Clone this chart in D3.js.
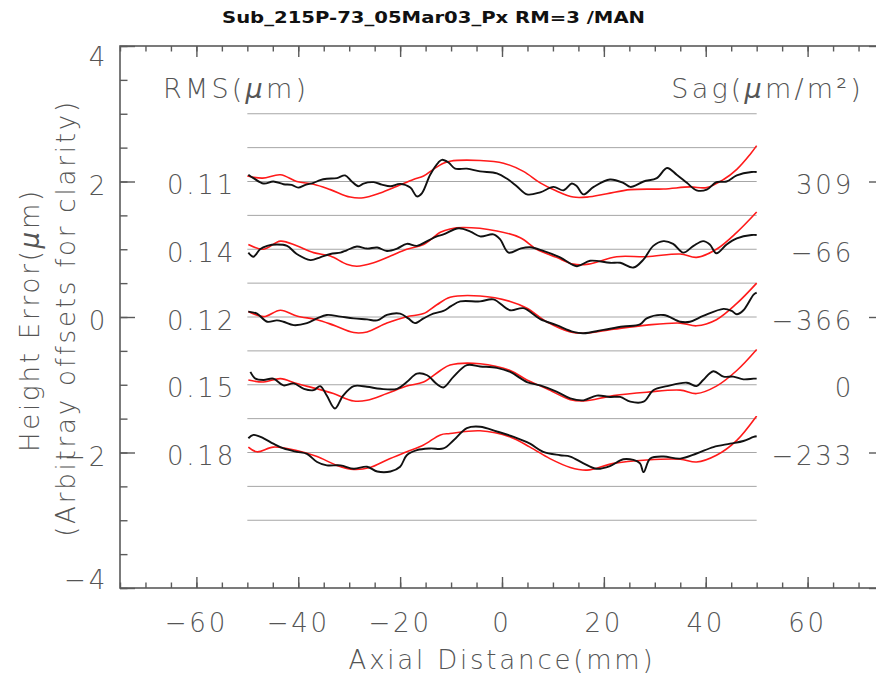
<!DOCTYPE html>
<html>
<head>
<meta charset="utf-8">
<script src="https://cdn.jsdelivr.net/npm/d3@7/dist/d3.min.js"></script>
<style>
  html, body { margin: 0; padding: 0; background: #fff; }
  svg { display: block; }
  .lbl { font-family: "DejaVu Sans", sans-serif; font-weight: 200; fill: #555; font-size: 26px; letter-spacing: 2.8px; }
  .head { font-size: 27px; letter-spacing: 3.2px; }
</style>
</head>
<body>
<script>
// Axial height-error profiles: measured (black) and sag fit (red), stacked with offsets.
const title = "Sub_215P-73_05Mar03_Px RM=3 /MAN";
const xTicks = [-60, -40, -20, 0, 20, 40, 60];
const xTickLabels = ["\u221260", "\u221240", "\u221220", "0", "20", "40", "60"];
const yTicks = [4, 2, 0, -2, -4];
const yTickLabels = ["4", "2", "0", "\u22122", "\u22124"];
const guideLevels = [3, 2.5, 2, 1.5, 1, 0.5, 0, -0.5, -1, -1.5, -2, -2.5, -3];
const offsets = [2, 1, 0, -1, -2];
const rmsLabels = ["0.11", "0.14", "0.12", "0.15", "0.18"];
const sagLabels = ["309", "\u221266", "\u2212366", "0", "\u2212233"];

const measured1 = [[-49.8,0.10],[-48.8,0.05],[-46.8,-0.03],[-44.9,0.0],[-42.9,-0.04],[-41.3,-0.05],[-40,-0.09],[-38.6,-0.05],[-37,-0.02],[-35.7,0.02],[-34.4,0.04],[-32.4,0.05],[-30.8,0.09],[-29.5,0.0],[-28.2,-0.07],[-27.2,-0.03],[-25.2,-0.01],[-23.6,-0.045],[-21.9,-0.07],[-20,-0.035],[-18,-0.09],[-16.7,-0.22],[-15.7,-0.17],[-14.1,0.10],[-12.5,0.28],[-11.8,0.32],[-10.5,0.28],[-9.2,0.19],[-6.9,0.19],[-4.3,0.15],[-1.0,0.12],[1.0,0.04],[2.9,-0.07],[4.9,-0.19],[7.5,-0.16],[10.1,-0.08],[12.1,-0.13],[13.7,-0.03],[14.7,-0.07],[16,-0.19],[18,-0.08],[21.2,0.03],[23.8,-0.02],[25.2,-0.08],[27.8,0.0],[30.4,0.05],[32.4,0.20],[34.3,0.10],[36.3,-0.02],[38.2,-0.13],[40.2,-0.12],[42.1,-0.01],[44.1,0.0],[46.1,0.09],[49,0.14],[50,0.14]];
const fit1 = [[-50,0.08],[-47,0.05],[-43.5,0.10],[-40.3,0.0],[-37,-0.04],[-33.7,-0.12],[-29.8,-0.23],[-27.2,-0.24],[-23.9,-0.17],[-20.6,-0.07],[-17.4,0.03],[-15.4,0.08],[-13.5,0.18],[-11.5,0.27],[-10.2,0.30],[-4.3,0.31],[0.3,0.27],[4.2,0.15],[7.5,-0.02],[10.7,-0.14],[14,-0.23],[16.7,-0.23],[20.6,-0.18],[25.2,-0.12],[31.7,-0.11],[36.9,-0.08],[40.2,-0.09],[43.5,0.03],[46.1,0.18],[48.7,0.40],[50,0.53]];

const measured2 = [[-49.8,-0.05],[-48.8,-0.11],[-47.5,0.0],[-46.1,0.05],[-44.2,0.07],[-42.2,0.05],[-40.3,-0.07],[-37.6,-0.16],[-35.7,-0.12],[-33.7,-0.07],[-31.7,-0.05],[-30.5,-0.015],[-28.5,0.04],[-26.5,0.01],[-24.5,0.025],[-22.6,-0.025],[-20.6,0.01],[-18.7,0.08],[-16.7,0.05],[-14.7,0.12],[-12.8,0.19],[-11.5,0.22],[-8.5,0.31],[-6.2,0.26],[-4.3,0.19],[-1.7,0.22],[-0.4,0.15],[1.3,-0.05],[3.6,0.01],[5.5,0.03],[8.1,-0.025],[11.4,-0.12],[14.7,-0.25],[17.3,-0.17],[21.2,-0.20],[23.2,-0.20],[25.8,-0.27],[27.8,-0.15],[29.7,0.05],[31.7,0.12],[33.6,0.08],[35.6,-0.05],[37.6,0.05],[39.5,0.12],[40.8,0.07],[42.1,-0.06],[44.1,0.07],[46.1,0.16],[49,0.21],[50,0.21]];
const fit2 = [[-49.8,0.07],[-46.8,0.0],[-43.5,0.12],[-40.3,0.05],[-37,-0.05],[-33.7,-0.10],[-30.5,-0.22],[-28.5,-0.25],[-25.2,-0.20],[-21.9,-0.10],[-18.7,0.0],[-15.4,0.07],[-12.1,0.25],[-10.2,0.30],[-7.6,0.32],[-1.0,0.27],[3.6,0.17],[6.8,0.0],[10.7,-0.12],[14,-0.22],[17,-0.22],[22.5,-0.11],[28.4,-0.11],[35,-0.07],[38.2,-0.12],[42.1,0.0],[46.1,0.25],[50,0.55]];

const measured3 = [[-49.8,0.08],[-48.1,0.05],[-46.1,-0.07],[-44.2,-0.05],[-42.9,-0.07],[-40.9,-0.12],[-38.3,-0.09],[-36.3,-0.02],[-34.4,0.03],[-31.7,0.005],[-29.1,-0.02],[-26.5,-0.035],[-24.5,-0.05],[-22.6,0.03],[-20,0.05],[-18.4,-0.02],[-17.1,-0.09],[-15.4,-0.02],[-13.5,0.05],[-11.5,0.09],[-10,0.16],[-8.2,0.23],[-4.3,0.23],[-1.7,0.26],[1.6,0.10],[4.2,0.13],[7.5,-0.03],[10.7,-0.12],[14,-0.22],[16,-0.24],[19.9,-0.19],[23.8,-0.14],[27.1,-0.11],[28.4,-0.02],[31.7,0.03],[35,-0.07],[36.9,-0.07],[39.5,0.015],[43.5,0.12],[45.1,0.09],[46.1,0.04],[47.4,0.10],[49.4,0.33],[50,0.36]];
const fit3 = [[-49.8,0.08],[-46.8,0.005],[-43.5,0.10],[-40.3,0.015],[-36.3,-0.04],[-33.1,-0.12],[-29.1,-0.23],[-26.5,-0.22],[-22.6,-0.09],[-18.7,0.005],[-15.4,0.05],[-12.8,0.18],[-10.2,0.29],[-4.3,0.31],[1.6,0.23],[4.9,0.13],[8.8,-0.07],[13.4,-0.22],[16,-0.24],[21.9,-0.18],[28.4,-0.12],[35,-0.09],[38.2,-0.13],[42.1,-0.04],[46.1,0.20],[50,0.50]];

const measured4 = [[-49.4,0.19],[-48.4,0.09],[-46.8,0.07],[-44.9,0.09],[-42.9,-0.01],[-40.9,0.02],[-38.9,-0.06],[-37,-0.08],[-35.7,-0.02],[-34.4,-0.16],[-32.8,-0.35],[-31.2,-0.16],[-29.1,-0.02],[-26.5,-0.03],[-23.9,-0.06],[-20.6,-0.06],[-18.7,0.04],[-16.7,0.165],[-14.7,0.14],[-12.8,0.01],[-11.5,-0.04],[-9.5,0.12],[-6.9,0.29],[-4.3,0.27],[-1.0,0.25],[1.6,0.19],[4.9,0.04],[7.5,-0.01],[10.7,-0.10],[13.4,-0.20],[16,-0.23],[18.6,-0.16],[21.2,-0.18],[23.2,-0.18],[25.2,-0.25],[27.8,-0.25],[29.7,-0.08],[32.4,-0.02],[36.3,0.03],[38.2,-0.02],[39.5,0.07],[41.5,0.20],[43.5,0.12],[45.4,0.12],[47.4,0.08],[49.4,0.09],[50,0.09]];
const fit4 = [[-49.8,0.07],[-46.8,0.04],[-43.5,0.09],[-40.3,0.017],[-36.3,-0.06],[-33.1,-0.13],[-29.1,-0.24],[-26.5,-0.23],[-22.6,-0.13],[-18.7,-0.02],[-15.4,0.04],[-12.1,0.21],[-10.2,0.29],[-4.3,0.31],[1.6,0.21],[4.9,0.07],[8.8,-0.06],[13.4,-0.22],[16,-0.24],[21.9,-0.16],[28.4,-0.11],[35,-0.08],[38.2,-0.13],[42.1,-0.02],[46.1,0.21],[50,0.52]];

const measured5 = [[-49.8,0.21],[-48.8,0.26],[-46.8,0.21],[-44.9,0.13],[-42.9,0.06],[-40.3,0.01],[-38.3,-0.02],[-36.3,-0.14],[-34.4,-0.19],[-31.7,-0.19],[-29.1,-0.24],[-26.5,-0.21],[-24.5,-0.28],[-21.9,-0.28],[-20,-0.21],[-18.7,-0.04],[-16.7,0.035],[-14.1,0.06],[-11.5,0.06],[-9.5,0.18],[-6.9,0.36],[-4.3,0.38],[-1.0,0.31],[2.3,0.23],[5.5,0.13],[8.1,0.01],[11.4,-0.04],[13.4,-0.06],[16,-0.16],[18.6,-0.24],[21.2,-0.20],[23.8,-0.10],[25.8,-0.11],[27.1,-0.16],[27.8,-0.29],[29.1,-0.09],[31.7,-0.06],[35,-0.09],[38.2,-0.015],[41.5,0.08],[44.8,0.13],[47.4,0.17],[49.4,0.23],[50,0.24]];
const fit5 = [[-49.8,0.08],[-48.1,0.01],[-44.9,0.08],[-40.3,0.03],[-36.3,-0.06],[-32.4,-0.19],[-29.1,-0.25],[-25.9,-0.22],[-22.6,-0.11],[-18.7,0.01],[-15.4,0.11],[-12.1,0.26],[-10.2,0.28],[-4.3,0.32],[1.6,0.23],[5.5,0.08],[9.4,-0.09],[13.4,-0.22],[16.7,-0.26],[21.9,-0.16],[28.4,-0.11],[35,-0.10],[38.2,-0.14],[42.1,-0.04],[46.1,0.18],[50,0.54]];

const measuredSets = [measured1, measured2, measured3, measured4, measured5];
const fitSets = [fit1, fit2, fit3, fit4, fit5];

const W = 876, H = 684;
const x = d3.scaleLinear().domain([-75, 75]).range([120, 884]);
const y = d3.scaleLinear().domain([-4, 4]).range([588, 46]);
const axisColor = "#5a5a5a";

const svg = d3.select("body").append("svg").attr("width", W).attr("height", H);

// guide lines behind the profiles
svg.append("g").selectAll("line").data(guideLevels).join("line")
  .attr("x1", x(-50)).attr("x2", x(50))
  .attr("y1", d => y(d)).attr("y2", d => y(d))
  .attr("stroke", "#a6a6a6").attr("stroke-width", 1);

// profiles
const line = d3.line().curve(d3.curveCatmullRom.alpha(0.5));
offsets.forEach((off, i) => {
  svg.append("path")
    .attr("d", line(fitSets[i].map(p => [x(p[0]), y(off + p[1])])))
    .attr("fill", "none").attr("stroke", "#ff1a1a").attr("stroke-width", 1.6);
  svg.append("path")
    .attr("d", line(measuredSets[i].map(p => [x(p[0]), y(off + p[1])])))
    .attr("fill", "none").attr("stroke", "#111").attr("stroke-width", 1.9);
});

// frame and ticks
function styleAxis(g) {
  g.select(".domain").remove();
  g.selectAll(".tick line").attr("stroke", axisColor).attr("stroke-width", 1.4);
}
const xMinor = d3.range(-75, 76, 5);
const yMinor = d3.range(-4, 4.01, 0.5);
svg.append("g").attr("transform", "translate(0,588)")
  .call(d3.axisBottom(x).tickValues(xMinor).tickSize(-5.5).tickFormat("")).call(styleAxis);
svg.append("g").attr("transform", "translate(0,588)")
  .call(d3.axisBottom(x).tickValues(xTicks).tickSize(-11).tickFormat("")).call(styleAxis);
svg.append("g").attr("transform", "translate(0,46)")
  .call(d3.axisTop(x).tickValues(xMinor).tickSize(-5.5).tickFormat("")).call(styleAxis);
svg.append("g").attr("transform", "translate(0,46)")
  .call(d3.axisTop(x).tickValues(xTicks).tickSize(-11).tickFormat("")).call(styleAxis);
svg.append("g").attr("transform", "translate(120,0)")
  .call(d3.axisLeft(y).tickValues(yMinor).tickSize(-7.5).tickFormat("")).call(styleAxis);
svg.append("g").attr("transform", "translate(120,0)")
  .call(d3.axisLeft(y).tickValues(yTicks).tickSize(-15).tickFormat("")).call(styleAxis);
svg.append("g").attr("transform", "translate(884,0)")
  .call(d3.axisRight(y).tickValues(yMinor).tickSize(-7.5).tickFormat("")).call(styleAxis);
svg.append("g").attr("transform", "translate(884,0)")
  .call(d3.axisRight(y).tickValues(yTicks).tickSize(-15).tickFormat("")).call(styleAxis);

svg.append("rect")
  .attr("x", x(-75)).attr("y", y(4))
  .attr("width", x(75) - x(-75)).attr("height", y(-4) - y(4))
  .attr("fill", "none").attr("stroke", axisColor).attr("stroke-width", 1.6);

// tick labels
svg.append("g").selectAll("text").data(xTicks).join("text")
  .attr("class", "lbl").attr("text-anchor", "middle")
  .attr("x", d => x(d)).attr("y", 623).attr("dominant-baseline", "central")
  .text((d, i) => xTickLabels[i]);

svg.append("g").selectAll("text").data(yTicks).join("text")
  .attr("class", "lbl").attr("text-anchor", "end")
  .attr("x", 108)
  .attr("y", d => Math.max(y(4) + 11, Math.min(y(-4) - 8, y(d) + 4)))
  .attr("dominant-baseline", "central")
  .text((d, i) => yTickLabels[i]);

// RMS and sag annotations per profile
svg.append("g").selectAll("text").data(offsets).join("text")
  .attr("class", "lbl").attr("text-anchor", "end")
  .attr("x", 236).attr("y", d => y(d) + 3.5).attr("dominant-baseline", "central")
  .text((d, i) => rmsLabels[i]);
svg.append("g").selectAll("text").data(offsets).join("text")
  .attr("class", "lbl").attr("text-anchor", "end")
  .attr("x", 854).attr("y", d => y(d) + 3.5).attr("dominant-baseline", "central")
  .text((d, i) => sagLabels[i]);

function unitText(sel, before, after) {
  sel.append("tspan").text(before);
  sel.append("tspan").attr("font-style", "italic").text("\u03bc");
  sel.append("tspan").text(after);
}
const rmsHead = svg.append("text").attr("class", "lbl head")
  .attr("x", 163).attr("y", 88).attr("dominant-baseline", "central");
unitText(rmsHead, "RMS(", "m)");
const sagHead = svg.append("text").attr("class", "lbl head").attr("text-anchor", "end")
  .attr("x", 864).attr("y", 88).attr("dominant-baseline", "central");
unitText(sagHead, "Sag(", "m/m\u00b2)");

// axis titles
svg.append("text").attr("class", "lbl").attr("text-anchor", "middle")
  .attr("x", 502).attr("y", 660).attr("dominant-baseline", "central")
  .text("Axial Distance(mm)");
const yt1 = svg.append("text").attr("class", "lbl").attr("text-anchor", "middle")
  .attr("transform", "translate(30,320) rotate(-90)").attr("dominant-baseline", "central");
unitText(yt1, "Height Error(", "m)");
svg.append("text").attr("class", "lbl").attr("text-anchor", "middle")
  .attr("transform", "translate(66,318) rotate(-90)").attr("dominant-baseline", "central")
  .text("(Arbitray offsets for clarity)");

// title
svg.append("text")
  .attr("x", 433.5).attr("y", 17).attr("text-anchor", "middle").attr("dominant-baseline", "central")
  .attr("font-family", "DejaVu Sans, sans-serif").attr("font-weight", "bold").attr("font-size", 16)
  .attr("fill", "#111")
  .attr("textLength", 423).attr("lengthAdjust", "spacingAndGlyphs")
  .text(title);
</script>
</body>
</html>
